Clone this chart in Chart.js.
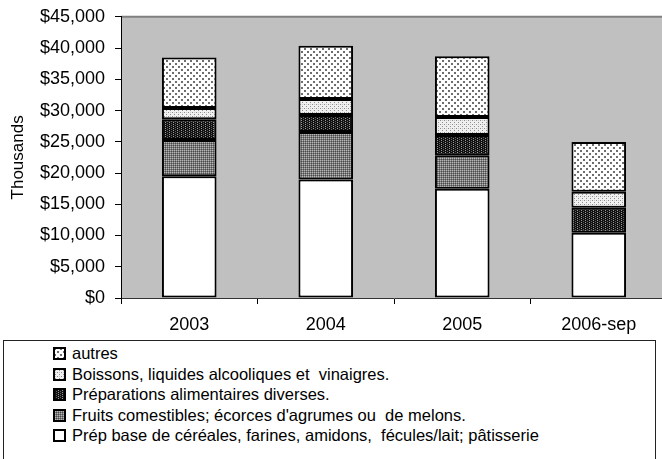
<!DOCTYPE html>
<html lang="fr">
    <head>
        <meta charset="UTF-8">
        <title>Importations par catégorie</title>
        <script src="https://cdn.jsdelivr.net/npm/chart.js"></script>
        <style>
            html, body { margin: 0; padding: 0; background: #fff; overflow: hidden; }
            body { width: 662px; height: 459px; position: relative; font-family: "Liberation Sans", Arial, sans-serif; }
            #wrap { position: absolute; left: 0; top: -4px; width: 668px; height: 342px; }
            #legend {
                position: absolute; left: 3px; top: 340px; width: 653px; height: 130px;
                border: 1px solid #222; box-sizing: border-box; padding-top: 2px;
                font-size: 16.5px; color: #000;
            }
            .leg-row { position: relative; height: 20.5px; line-height: 20.5px; padding-left: 68px; white-space: pre; }
            .leg-row canvas { position: absolute; left: 49px; top: 4px; }
        </style>
    </head>
    <body>
        <div id="wrap"><canvas id="chart" width="668" height="342"></canvas></div>
        <div id="legend"></div>

        <script>
            const years = ['2003', '2004', '2005', '2006-sep'];
            const seriesNames = [
                'Prép base de céréales, farines, amidons,  fécules/lait; pâtisserie',
                'Fruits comestibles; écorces d\'agrumes ou  de melons.',
                'Préparations alimentaires diverses.',
                'Boissons, liquides alcooliques et  vinaigres.',
                'autres'
            ];
            // valeurs en milliers de $
            const prepBase = [19500, 18950, 17500, 10450];
            const fruits = [5800, 7600, 5350, 0];
            const prepDiverses = [3300, 2750, 3250, 4000];
            const boissons = [1800, 2550, 2850, 2550];
            const autres = [8100, 8500, 9750, 7950];
            const yTicks = [0, 5000, 10000, 15000, 20000, 25000, 30000, 35000, 40000, 45000];

            // motifs de remplissage (style Excel)
            function makePattern(size, bg, dots) {
                const c = document.createElement('canvas');
                c.width = size; c.height = size;
                const g = c.getContext('2d');
                g.fillStyle = bg;
                g.fillRect(0, 0, size, size);
                dots.forEach(d => {
                    g.fillStyle = d[3];
                    g.fillRect(d[0], d[1], d[2], d[2]);
                });
                return c;
            }

            const tiles = [
                makePattern(4, '#ffffff', []),
                makePattern(2, '#7a7a7a', [[0, 0, 1, '#b8b8b8'], [1, 1, 1, '#4a4a4a']]),
                makePattern(4, '#111111', [[1, 0, 1, '#9a9a9a'], [1, 2, 1, '#9a9a9a'], [3, 1, 1, '#606060'], [3, 3, 1, '#606060']]),
                makePattern(4, '#f0f0f0', [[0, 0, 1, '#8c8c8c'], [2, 2, 1, '#8c8c8c'], [2, 0, 1, '#c8c8c8']]),
                makePattern(6, '#ffffff', [[1, 1, 2, '#6e6e6e'], [4, 4, 2, '#6e6e6e']])
            ];

            const ctx = document.getElementById('chart').getContext('2d');
            const patterns = tiles.map(t => ctx.createPattern(t, 'repeat'));
            const values = [prepBase, fruits, prepDiverses, boissons, autres];

            const plotBackground = {
                id: 'plotBackground',
                beforeDraw(chart) {
                    const a = chart.chartArea;
                    const c = chart.ctx;
                    c.save();
                    c.fillStyle = '#c0c0c0';
                    c.fillRect(a.left, a.top, a.right - a.left, a.bottom - a.top);
                    c.strokeStyle = '#808080';
                    c.lineWidth = 2;
                    c.beginPath();
                    c.moveTo(a.left, a.top);
                    c.lineTo(a.right, a.top);
                    c.stroke();
                    c.restore();
                }
            };

            const chart = new Chart(ctx, {
                type: 'bar',
                data: {
                    labels: years,
                    datasets: values.map((v, i) => ({
                        label: seriesNames[i],
                        data: v,
                        backgroundColor: patterns[i],
                        borderColor: '#000',
                        borderWidth: 2,
                        borderSkipped: false,
                        categoryPercentage: 1,
                        barPercentage: 0.4
                    }))
                },
                options: {
                    responsive: false,
                    animation: false,
                    layout: { padding: { top: 12, right: 1, left: 0, bottom: 0 } },
                    plugins: {
                        legend: { display: false },
                        tooltip: { enabled: false }
                    },
                    scales: {
                        x: {
                            stacked: true,
                            grid: { drawOnChartArea: false, tickLength: 6, tickColor: '#000', offset: true },
                            border: { color: '#333', width: 1 },
                            ticks: {
                                color: '#000',
                                padding: 10,
                                maxRotation: 0,
                                font: { family: 'Liberation Sans', size: 18 }
                            },
                            afterFit: s => { s.height = 40; }
                        },
                        y: {
                            stacked: true,
                            min: 0,
                            max: 45000,
                            afterBuildTicks: s => { s.ticks = yTicks.map(v => ({ value: v })); },
                            grid: { drawOnChartArea: false, tickLength: 6, tickColor: '#000' },
                            border: { color: '#000', width: 1 },
                            ticks: {
                                color: '#000',
                                padding: 10,
                                font: { family: 'Liberation Sans', size: 18 },
                                callback: v => '$' + v.toLocaleString('en-US')
                            },
                            title: {
                                display: true,
                                text: 'Thousands',
                                color: '#000',
                                padding: { top: 8, bottom: 4 },
                                font: { family: 'Liberation Sans', size: 17 }
                            },
                            afterFit: s => { s.width = 121; }
                        }
                    }
                },
                plugins: [plotBackground]
            });

            // légende en encadré sous le graphique, ordre inverse de l'empilement
            const legend = document.getElementById('legend');
            for (let i = seriesNames.length - 1; i >= 0; i--) {
                const row = document.createElement('div');
                row.className = 'leg-row';
                const sw = document.createElement('canvas');
                sw.width = 13; sw.height = 13;
                const g = sw.getContext('2d');
                g.fillStyle = g.createPattern(tiles[i], 'repeat');
                g.fillRect(0, 0, 13, 13);
                g.strokeStyle = '#000';
                g.lineWidth = 2;
                g.strokeRect(1, 1, 11, 11);
                row.appendChild(sw);
                row.appendChild(document.createTextNode(seriesNames[i]));
                legend.appendChild(row);
            }
        </script>
    </body>
</html>
